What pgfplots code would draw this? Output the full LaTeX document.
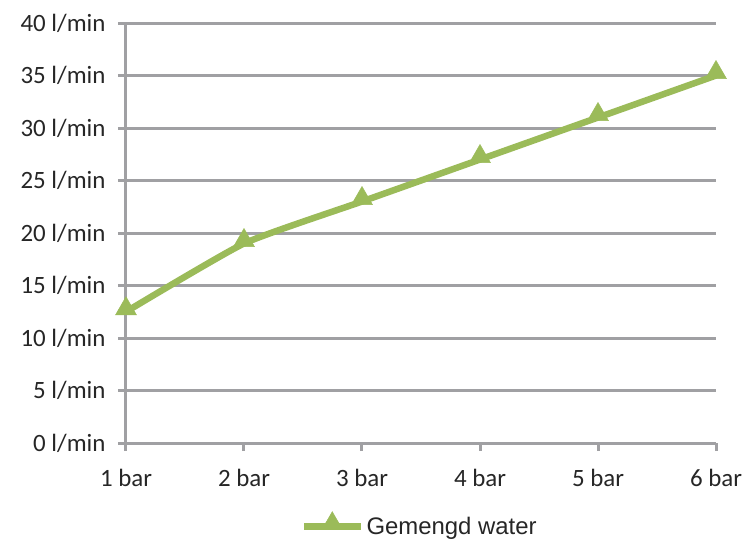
\documentclass[border=0pt]{standalone}
\usepackage{fontspec}
\setmainfont{Carlito}
\newfontfamily\legfont{Liberation Sans}
\usepackage{pgfplots}
\pgfplotsset{compat=1.18}
\definecolor{gridc}{HTML}{A0A0A3}
\definecolor{lgreen}{HTML}{9BBB59}
\definecolor{txt}{HTML}{262626}
\begin{document}
\begin{tikzpicture}[font=\fontsize{25}{30}\selectfont]
\path[use as bounding box] (-126bp,-100bp) rectangle (617bp,443bp);
\begin{axis}[
  at={(0,0)}, anchor=south west,
  scale only axis, width=590bp, height=420bp,
  xmin=1, xmax=6, ymin=0, ymax=40,
  xtick={1,2,3,4,5,6},
  xticklabels={1 bar,2 bar,3 bar,4 bar,5 bar,6 bar},
  ytick={0,5,...,40},
  yticklabel={\pgfmathprintnumber{\tick} l/min},
  /pgf/number format/assume math mode=true,
  axis x line*=bottom, axis y line*=left,
  axis line style={gridc, line width=3bp, -},
  ymajorgrids,
  grid style={gridc, line width=3bp},
  tick style={gridc, line width=3bp},
  major tick length=8bp,
  tick align=outside,
  ticklabel style={text=txt, font=\fontsize{25}{30}\selectfont},
  yticklabel style={xshift=-9bp},
  xticklabel style={yshift=-15bp},
  clip=false,
  legend style={at={(0.498,-0.195)}, anchor=center, draw=none, fill=none,
    font=\legfont\fontsize{24}{28}\selectfont, text=txt, inner sep=0pt,
    /tikz/every even column/.append style={column sep=0pt}},
  legend cell align=left,
  legend image code/.code={%
    \draw[#1, mark repeat=2, mark phase=2] plot coordinates {(0bp,0bp) (28bp,0bp) (57bp,0bp)};},
]
\addplot[lgreen, line width=6.5bp, smooth, tension=0.3,
  mark=triangle*, mark size=12bp,
  mark options={solid, line width=0.5bp, fill=lgreen, draw=lgreen, yshift=3bp}]
  coordinates {(1,12.5) (2,19) (3,23) (4,27) (5,31) (6,35)};
\addlegendentry{Gemengd water}
\end{axis}
\end{tikzpicture}
\end{document}
